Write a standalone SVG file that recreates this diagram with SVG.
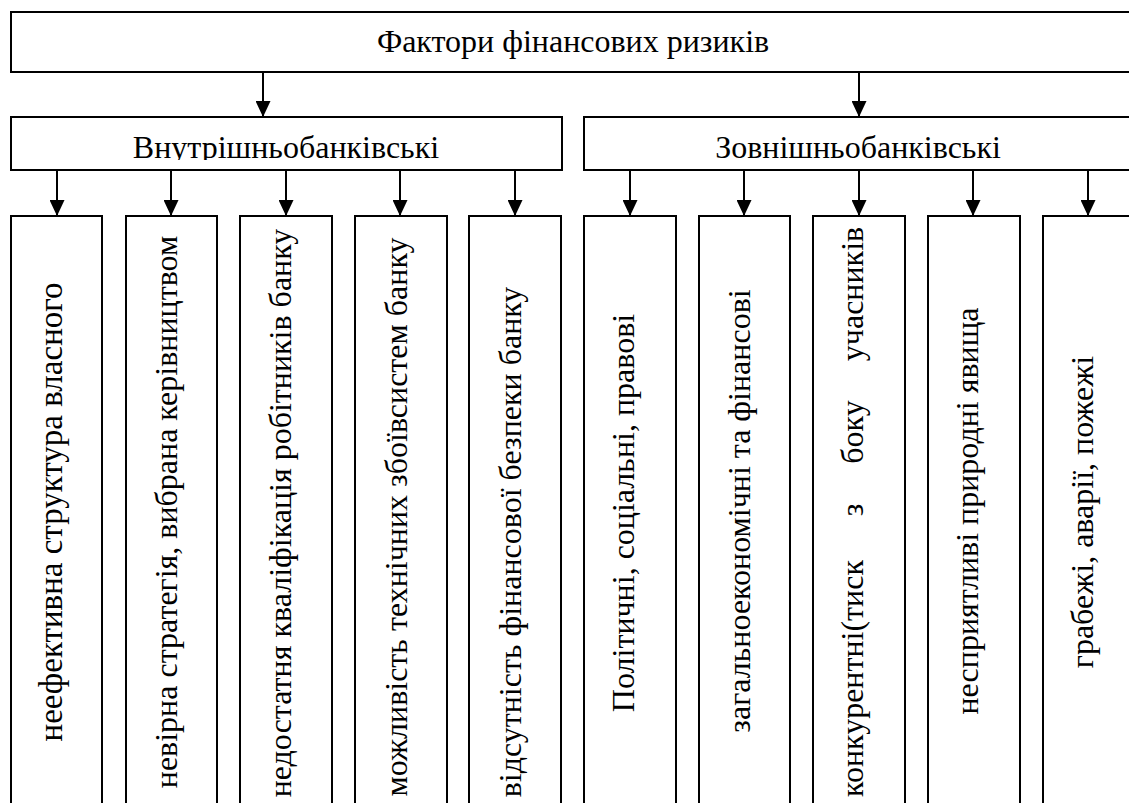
<svg xmlns="http://www.w3.org/2000/svg" width="1129" height="803" viewBox="0 0 1129 803">
<defs>
<style>
.box{fill:#fff;stroke:#000;stroke-width:2}
.t{font-family:"Liberation Serif","Times New Roman",serif;fill:#000}
.h{font-size:32px;text-anchor:middle}
.v{font-size:32px;text-anchor:middle}
.c{stroke:#000;stroke-width:2;fill:none}
</style>
<marker id="ah" markerUnits="userSpaceOnUse" markerWidth="16" markerHeight="15" refX="16" refY="7.5" orient="auto" viewBox="0 0 16 15">
<path d="M0,0 L16,7.5 L0,15 z" fill="#000"/>
</marker>
<clipPath id="clipMid"><rect x="0" y="100" width="1129" height="60"/></clipPath>
</defs>
<rect width="1129" height="803" fill="#fff"/>

<g id="connectors">
<line class="c" x1="263" y1="72" x2="263" y2="117" marker-end="url(#ah)"/>
<line class="c" x1="859" y1="72" x2="859" y2="117" marker-end="url(#ah)"/>
<line class="c" x1="57" y1="170" x2="57" y2="216" marker-end="url(#ah)"/>
<line class="c" x1="171" y1="170" x2="171" y2="216" marker-end="url(#ah)"/>
<line class="c" x1="286" y1="170" x2="286" y2="216" marker-end="url(#ah)"/>
<line class="c" x1="400" y1="170" x2="400" y2="216" marker-end="url(#ah)"/>
<line class="c" x1="515" y1="170" x2="515" y2="216" marker-end="url(#ah)"/>
<line class="c" x1="630" y1="170" x2="630" y2="216" marker-end="url(#ah)"/>
<line class="c" x1="744" y1="170" x2="744" y2="216" marker-end="url(#ah)"/>
<line class="c" x1="859" y1="170" x2="859" y2="216" marker-end="url(#ah)"/>
<line class="c" x1="973" y1="170" x2="973" y2="216" marker-end="url(#ah)"/>
<line class="c" x1="1088" y1="170" x2="1088" y2="216" marker-end="url(#ah)"/>
</g>

<g id="root">
<rect class="box" x="11" y="12" width="1130" height="60"/>
<text class="t h" x="573" y="52">Фактори фінансових ризиків</text>
</g>

<g id="internal">
<rect class="box" x="11" y="117" width="551" height="53"/>
<text class="t h" x="286" y="158" clip-path="url(#clipMid)">Внутрішньобанківські</text>
</g>
<g id="external">
<rect class="box" x="584" y="117" width="560" height="53"/>
<text class="t h" x="858" y="158" clip-path="url(#clipMid)">Зовнішньобанківські</text>
</g>

<g id="col1">
<rect class="box" x="11" y="216" width="91" height="600"/>
<text class="t v" font-size="33" style="font-size:33px" transform="translate(62,512) rotate(-90)">неефективна структура власного</text>
</g>
<g id="col2">
<rect class="box" x="126" y="216" width="91" height="600"/>
<text class="t v" transform="translate(177,512) rotate(-90)">невірна стратегія, вибрана керівництвом</text>
</g>
<g id="col3">
<rect class="box" x="240" y="216" width="92" height="600"/>
<text class="t v" transform="translate(291,513) rotate(-90)">недостатня кваліфікація робітників банку</text>
</g>
<g id="col4">
<rect class="box" x="355" y="216" width="92" height="600"/>
<text class="t v" transform="translate(407,517) rotate(-90)">можливість технічних збоївсистем банку</text>
</g>
<g id="col5">
<rect class="box" x="469" y="216" width="92" height="600"/>
<text class="t v" transform="translate(521,542) rotate(-90)">відсутність фінансової безпеки банку</text>
</g>
<g id="col6">
<rect class="box" x="584" y="216" width="92" height="600"/>
<text class="t v" transform="translate(634,513) rotate(-90)">Політичні, соціальні, правові</text>
</g>
<g id="col7">
<rect class="box" x="699" y="216" width="91" height="600"/>
<text class="t v" transform="translate(750,511) rotate(-90)">загальноекономічні та фінансові</text>
</g>
<g id="col8">
<rect class="box" x="813" y="216" width="92" height="600"/>
<text class="t" font-size="32" transform="translate(863,0) rotate(-90)"><tspan x="-797">конкурентні(тиск</tspan><tspan x="-510" text-anchor="middle">з</tspan><tspan x="-432" text-anchor="middle">боку</tspan><tspan x="-294" text-anchor="middle">учасників</tspan></text>
</g>
<g id="col9">
<rect class="box" x="928" y="216" width="92" height="600"/>
<text class="t v" transform="translate(978,511) rotate(-90)">несприятливі природні явища</text>
</g>
<g id="col10">
<rect class="box" x="1043" y="216" width="100" height="600"/>
<text class="t v" transform="translate(1093,512) rotate(-90)">грабежі, аварії, пожежі</text>
</g>
</svg>
